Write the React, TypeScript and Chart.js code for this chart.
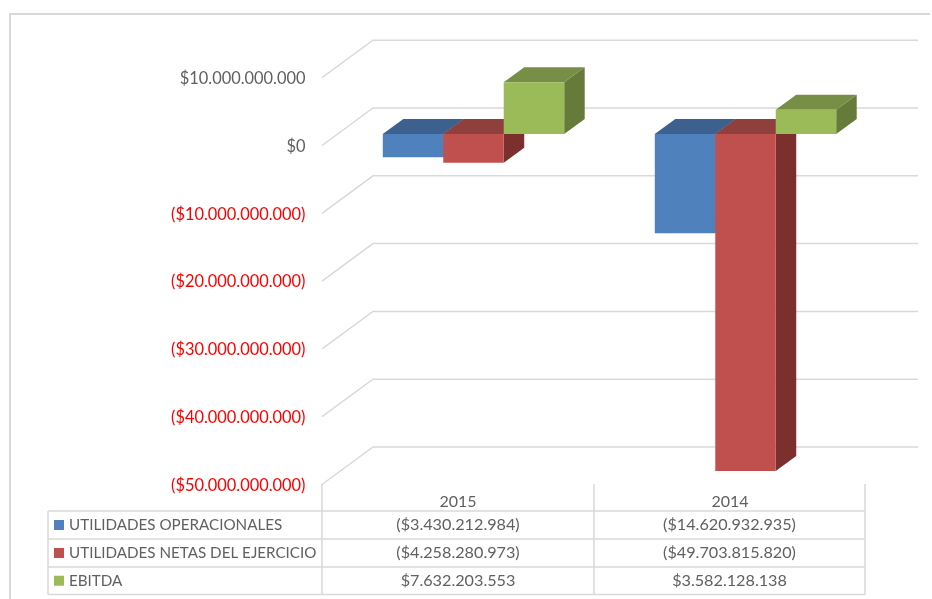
import React, { useEffect, useRef } from "react";
import { Chart, registerables } from "chart.js";

Chart.register(...registerables);

const categories = ["2015", "2014"];
const utilidadesOperacionales = [-3430212984, -14620932935];
const utilidadesNetas = [-4258280973, -49703815820];
const ebitda = [7632203553, 3582128138];
const seriesNames = ["UTILIDADES OPERACIONALES", "UTILIDADES NETAS DEL EJERCICIO", "EBITDA"];
const seriesValues = [utilidadesOperacionales, utilidadesNetas, ebitda];
const frontColors = ["#4f81bd", "#c0504d", "#9bbb59"];
const topColors = ["#3c618e", "#90403c", "#768e45"];
const sideColors = ["#33537a", "#7b302e", "#667b39"];

const FONT = "Lato, sans-serif";
const TEXT = "#606060";
const LINE = "#d9d9d9";

function money(v: number): string {
  const s = Math.abs(Math.round(v)).toString().replace(/\B(?=(\d{3})+(?!\d))/g, ".");
  return v < 0 ? `($${s})` : `$${s}`;
}

const BAR_DX = 20.5;
const BAR_DY = -15;
const BACK_OFFSET_Y = -26;
const FRONT_OFFSET_Y = 11.5;
const FRONT_LEFT = 322;
const BACK_LEFT = 373;
const BACK_RIGHT = 918;

function seg(ctx: CanvasRenderingContext2D, x0: number, y0: number, x1: number, y1: number) {
  ctx.beginPath();
  ctx.moveTo(x0, y0);
  ctx.lineTo(x1, y1);
  ctx.stroke();
}

function poly(ctx: CanvasRenderingContext2D, pts: number[][], fill: string) {
  ctx.fillStyle = fill;
  ctx.beginPath();
  pts.forEach((p, i) => (i ? ctx.lineTo(p[0], p[1]) : ctx.moveTo(p[0], p[1])));
  ctx.closePath();
  ctx.fill();
}

const wallsPlugin = {
  id: "walls",
  beforeDatasetsDraw(chart: any) {
    const ctx = chart.ctx as CanvasRenderingContext2D;
    const y = chart.scales.y;
    ctx.save();
    ctx.strokeStyle = LINE;
    // chart frame
    ctx.lineWidth = 2;
    ctx.beginPath();
    ctx.moveTo(10, 599);
    ctx.lineTo(10, 14);
    ctx.lineTo(930, 14);
    ctx.stroke();
    ctx.lineWidth = 1.5;
    y.ticks.forEach((t: any) => {
      const py = y.getPixelForValue(t.value);
      const by = py + BACK_OFFSET_Y;
      const fy = py + FRONT_OFFSET_Y;
      ctx.beginPath();
      ctx.moveTo(FRONT_LEFT, fy);
      ctx.lineTo(BACK_LEFT, by);
      ctx.lineTo(BACK_RIGHT, by);
      ctx.stroke();
    });
    ctx.restore();
    // Series are painted left to right, so each box covers the side of the one before it.
    seriesNames.forEach((_, i) => {
      const meta = chart.getDatasetMeta(i);
      meta.data.forEach((bar: any) => {
        const { x, y: vy, base, width } = bar.getProps(["x", "y", "base", "width"], true);
        const l = x - width / 2;
        const r = x + width / 2;
        const t = Math.min(vy, base);
        const b = Math.max(vy, base);
        poly(ctx, [[r, t], [r + BAR_DX, t + BAR_DY], [r + BAR_DX, b + BAR_DY], [r, b]], sideColors[i]);
        poly(ctx, [[l, t], [l + BAR_DX, t + BAR_DY], [r + BAR_DX, t + BAR_DY], [r, t]], topColors[i]);
      });
      meta.controller.draw();
    });
    return false;
  },
  afterDraw(chart: any) {
    const ctx = chart.ctx as CanvasRenderingContext2D;
    const rows = [511, 539, 567, 594.5];
    const cols = [322, 594, 865];
    const left = 48;
    ctx.save();
    ctx.strokeStyle = LINE;
    ctx.lineWidth = 1.5;
    rows.forEach((ry) => seg(ctx, left, ry, cols[2], ry));
    seg(ctx, left, rows[0], left, rows[3]);
    cols.forEach((cx) => seg(ctx, cx, 484, cx, rows[3]));
    ctx.textBaseline = "middle";
    seriesNames.forEach((name, r) => {
      const cy = (rows[r] + rows[r + 1]) / 2;
      ctx.fillStyle = frontColors[r];
      ctx.fillRect(54, cy - 5, 10, 10);
      ctx.fillStyle = TEXT;
      ctx.textAlign = "left";
      ctx.font = `15.2px ${FONT}`;
      ctx.fillText(name, 69, cy);
      ctx.textAlign = "center";
      ctx.font = `16.2px ${FONT}`;
      categories.forEach((_, c) => {
        ctx.fillText(money(seriesValues[r][c]), (cols[c] + cols[c + 1]) / 2, cy);
      });
    });
    ctx.restore();
  },
};

export default function App() {
  const ref = useRef<HTMLCanvasElement>(null);
  useEffect(() => {
    const chart = new Chart(ref.current as HTMLCanvasElement, {
      type: "bar",
      data: {
        labels: categories,
        datasets: seriesNames.map((name, i) => ({
          label: name,
          data: seriesValues[i],
          backgroundColor: frontColors[i],
          barPercentage: 1,
          categoryPercentage: 0.667,
        })),
      },
      options: {
        responsive: false,
        animation: false,
        layout: { padding: { top: 66.2, right: 50.5, left: 0, bottom: 0 } },
        plugins: { legend: { display: false }, title: { display: false }, tooltip: { enabled: false } },
        scales: {
          x: {
            grid: { display: false, drawTicks: false },
            border: { display: false },
            afterFit(scale: any) {
              scale.height = 126;
            },
            ticks: {
              color: TEXT,
              font: { family: FONT, size: 16 },
              labelOffset: -15.5,
              padding: 19,
              maxRotation: 0,
            },
          },
          y: {
            min: -50000000000,
            max: 10000000000,
            grid: { display: false, drawTicks: false },
            border: { display: false },
            afterFit(scale: any) {
              scale.width = 337.5;
            },
            afterBuildTicks(scale: any) {
              scale.ticks = [10, 0, -10, -20, -30, -40, -50].map((v) => ({ value: v * 1e9 }));
            },
            ticks: {
              autoSkip: false,
              font: { family: FONT, size: 16.4 },
              color: (c: any) => (c.tick && c.tick.value < 0 ? "#ff0000" : TEXT),
              labelOffset: 12.5,
              padding: 32,
              callback: (v: any) => money(Number(v)),
            },
          },
        },
      },
      plugins: [wallsPlugin],
    } as any);
    return () => chart.destroy();
  }, []);
  return (
    <canvas
      ref={ref}
      width={932}
      height={599}
      style={{ position: "absolute", left: 0, top: 0, width: 932, height: 599 }}
    />
  );
}
